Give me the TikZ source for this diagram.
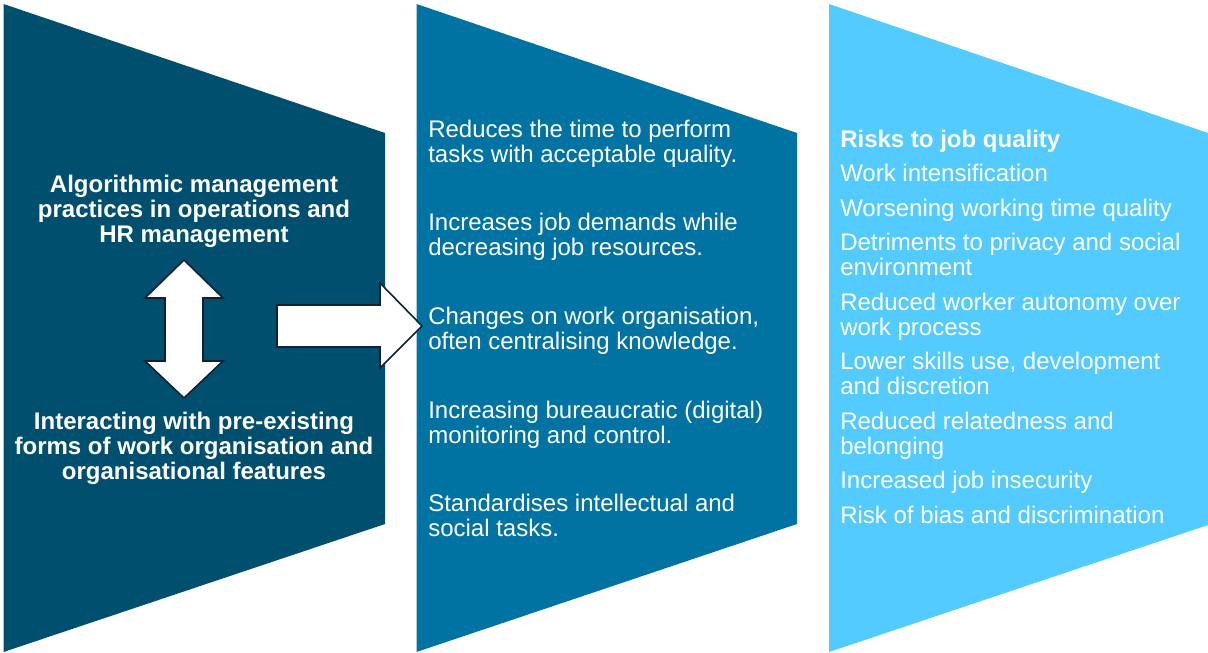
\documentclass[tikz,border=0pt]{standalone}
\usepackage{fontspec}
\setmainfont{Liberation Sans}
\usepackage{xcolor}
\usetikzlibrary{positioning}

\definecolor{panelDark}{RGB}{0,79,110}
\definecolor{panelMid}{RGB}{0,115,163}
\definecolor{panelLight}{RGB}{83,203,255}
\definecolor{arrowLine}{RGB}{14,34,52}

\begin{document}
\begin{tikzpicture}[
  x=0.75pt, y=-0.75pt,
  bigarrow/.style={fill=white, draw=arrowLine, line width=1.2pt, line join=miter},
  headtext/.style={text=white, font=\fontsize{18}{18.75}\selectfont\bfseries, align=center, inner sep=0pt, anchor=base},
  itemtext/.style={text=white, font=\fontsize{18}{18.75}\selectfont, align=left, inner sep=0pt, anchor=base west}
]
\useasboundingbox (0,0) rectangle (1208,653);

% Panels
\fill[panelDark]  (3.5,4) -- (385,133) -- (385,524) -- (3.5,652) -- cycle;
\fill[panelMid]   (416.5,4) -- (797,133) -- (797,524) -- (416.5,652) -- cycle;
\fill[panelLight] (829,4) -- (1208,133) -- (1208,525) -- (829,652) -- cycle;

% Left panel (anchored on the last line)
\node[headtext] (algo) at (194,242) {Algorithmic management\\practices in operations and\\HR management};
\node[headtext] (interact) at (194,479) {Interacting with pre-existing\\forms of work organisation and\\organisational features};

% Block arrows
\draw[bigarrow] (184,260) -- (223,298) -- (203,298) -- (203,361) -- (223,361)
  -- (184,398) -- (145,361) -- (165,361) -- (165,298) -- (145,298) -- cycle;
\draw[bigarrow] (277,305) -- (380,305) -- (380,283) -- (422,326) -- (380,368)
  -- (380,347) -- (277,347) -- cycle;

% Middle panel
\node[itemtext] (reduces) at (428,162) {Reduces the time to perform\\tasks with acceptable quality.};
\node[itemtext] (demands) at (428,255) {Increases job demands while\\decreasing job resources.};
\node[itemtext] (changes) at (428,349) {Changes on work organisation,\\often centralising knowledge.};
\node[itemtext] (control) at (428,443) {Increasing bureaucratic (digital)\\monitoring and control.};
\node[itemtext] (standard) at (428,536) {Standardises intellectual and\\social tasks.};

% Right panel
\node[itemtext] (risks) at (840,523) {\textbf{Risks to job quality}\\[7.1pt]
  Work intensification\\[7.1pt]
  Worsening working time quality\\[7.1pt]
  Detriments to privacy and social\\environment\\[7.1pt]
  Reduced worker autonomy over\\work process\\[7.1pt]
  Lower skills use, development\\and discretion\\[7.1pt]
  Reduced relatedness and\\belonging\\[7.1pt]
  Increased job insecurity\\[7.1pt]
  Risk of bias and discrimination};

\end{tikzpicture}
\end{document}
